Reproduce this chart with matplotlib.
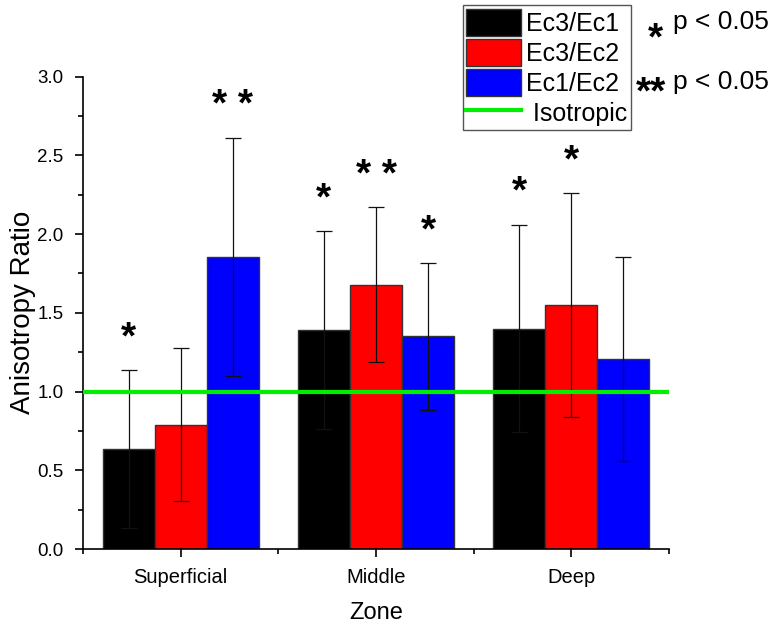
import numpy as np
import matplotlib
matplotlib.use('Agg')
import matplotlib.pyplot as plt
from matplotlib.patches import Patch
from matplotlib.lines import Line2D
from matplotlib.ticker import MultipleLocator

plt.rcParams['font.family'] = ['Liberation Sans', 'DejaVu Sans']

zones = ['Superficial', 'Middle', 'Deep']
series = ['Ec3/Ec1', 'Ec3/Ec2', 'Ec1/Ec2']
colors = ['#000000', '#ff0000', '#0000ff']

ec3_ec1 = [0.634, 1.39, 1.40]
ec3_ec1_err = [0.50, 0.63, 0.66]
ec3_ec2 = [0.79, 1.68, 1.55]
ec3_ec2_err = [0.485, 0.49, 0.71]
ec1_ec2 = [1.855, 1.35, 1.205]
ec1_ec2_err = [0.755, 0.464, 0.648]

ec3_ec1_sig = ['*', '*', '*']
ec3_ec2_sig = ['', '**', '*']
ec1_ec2_sig = ['**', '*', '']

means = [ec3_ec1, ec3_ec2, ec1_ec2]
errs = [ec3_ec1_err, ec3_ec2_err, ec1_ec2_err]
sigs = [ec3_ec1_sig, ec3_ec2_sig, ec1_ec2_sig]

fig = plt.figure(figsize=(7.81, 6.25), dpi=100)
ax = fig.add_axes([83/781, 1-549/625, (669-83)/781, (549-76.7)/625])

x = np.arange(1, len(zones)+1)
w = 0.8/3
star_fs = 28


def star_text(s, xy, coords):
    # the asterisk glyph sits high in the line, so shift it down to centre it on xy
    ax.annotate(s, xy, xycoords=coords, xytext=(0, -0.45*star_fs),
                textcoords='offset points', ha='center', va='baseline',
                fontsize=star_fs, fontweight='bold', annotation_clip=False)


for i in range(3):
    pos = x + (i-1)*w
    ax.bar(pos, means[i], w, color=colors[i], edgecolor='#333333', linewidth=1, zorder=2)
    ax.errorbar(pos, means[i], yerr=errs[i], fmt='none', ecolor='#111111',
                elinewidth=0.9, capsize=5.5, capthick=0.9, zorder=3)
    for p, m, e, s in zip(pos, means[i], errs[i], sigs[i]):
        if s:
            star_text(' '.join(s), (p, m+e+0.25), 'data')

ax.axhline(1.0, color='#00ee00', lw=3, zorder=4)

ax.set_xlim(0.5, 3.5)
ax.set_ylim(0, 3.0)
ax.set_xticks(x)
ax.set_xticklabels(zones, fontsize=14.5)
ax.xaxis.set_minor_locator(MultipleLocator(1.0, offset=0.5))
ax.yaxis.set_major_locator(MultipleLocator(0.5))
ax.yaxis.set_minor_locator(MultipleLocator(0.25))
ax.tick_params(axis='y', labelsize=13.5, pad=8)
ax.tick_params(axis='x', pad=7.5)
ax.tick_params(which='major', direction='out', length=6, width=1.2)
ax.tick_params(which='minor', direction='out', length=3.5, width=1.2)
ax.spines['top'].set_visible(False)
ax.spines['right'].set_visible(False)
ax.spines['left'].set_linewidth(1.2)
ax.spines['bottom'].set_linewidth(1.2)
ax.set_xlabel('Zone', fontsize=17, labelpad=11)
ax.set_ylabel('Anisotropy Ratio', fontsize=20, labelpad=1)

handles = [Patch(facecolor=c, edgecolor='#333333', linewidth=1) for c in colors]
handles.append(Line2D([], [], color='#00ee00', lw=3))
labels = series + [' Isotropic']
leg = fig.legend(handles, labels, loc='upper left', bbox_to_anchor=(462.7/781, 1-5/625),
                 fontsize=18, frameon=True, fancybox=False, framealpha=1,
                 handlelength=2.2, handleheight=1.285, labelspacing=0.12,
                 handletextpad=0.2, borderpad=0.15, borderaxespad=0)
leg.get_frame().set_edgecolor('#555555')
leg.get_frame().set_linewidth(1)

star_text('*', (655/781, 1-31.7/625), 'figure fraction')
star_text('**', (651.5/781, 1-86/625), 'figure fraction')
fig.text(673/781, 1-21.7/625, 'p < 0.05', fontsize=19, ha='left', va='center')
fig.text(673/781, 1-81.7/625, 'p < 0.05', fontsize=19, ha='left', va='center')

fig.savefig('out.png', dpi=100)
